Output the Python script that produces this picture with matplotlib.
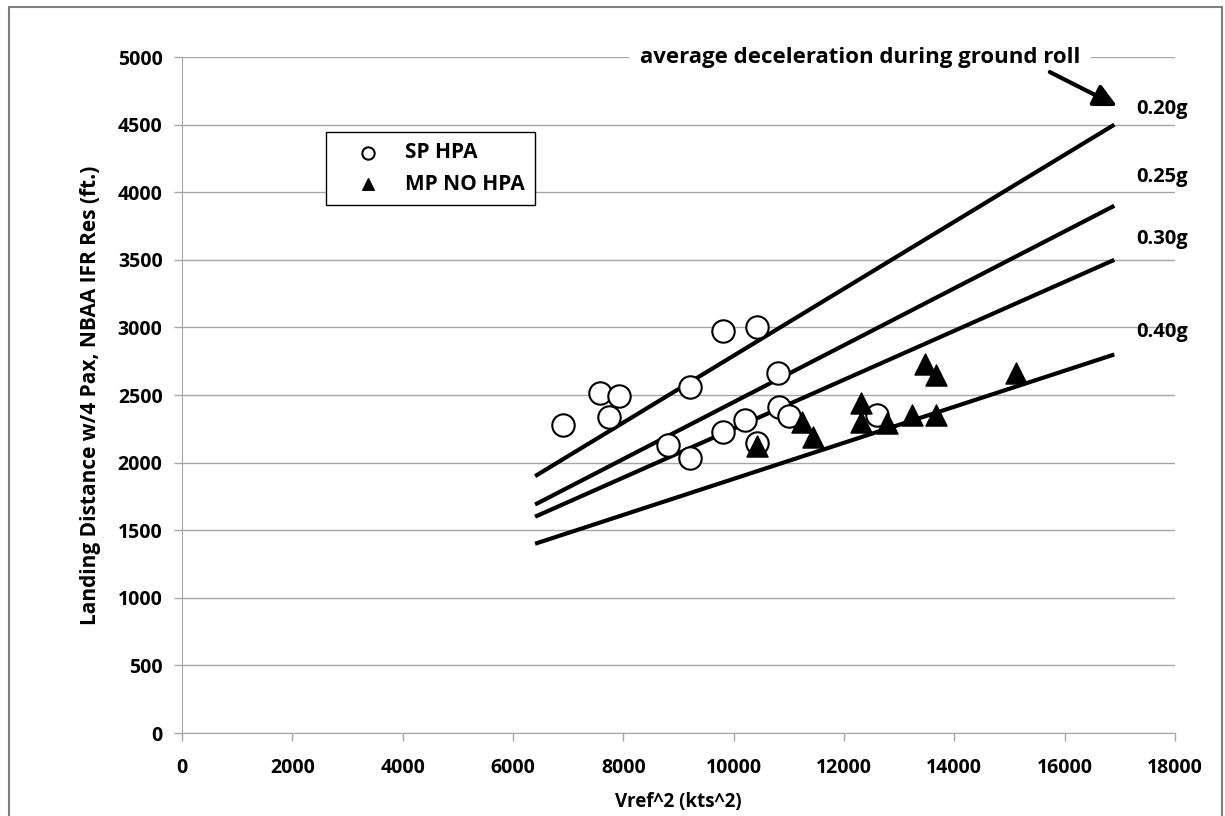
import matplotlib.pyplot as plt
import numpy as np

plt.rcParams['font.family'] = ['Open Sans', 'DejaVu Sans']

# SP HPA aircraft (open circles)
sp_x = [6900, 7580, 7920, 7740, 8810, 9210, 9210, 9800, 9800, 10420,
        10200, 10420, 10800, 10820, 11000, 12600]
sp_y = [2280, 2515, 2495, 2340, 2130, 2035, 2560, 2225, 2970, 3000,
        2315, 2145, 2665, 2410, 2345, 2350]

# MP NO HPA aircraft (filled triangles)
mp_x = [10420, 11240, 11440, 12310, 12310, 12780, 13230, 13470, 13670,
        13670, 15120]
mp_y = [2120, 2300, 2190, 2440, 2300, 2290, 2350, 2730, 2650, 2350, 2660]

# constant deceleration reference lines
decel_labels = ['0.20g', '0.25g', '0.30g', '0.40g']
line_x = [6400, 16900]
line_y = [[1900, 4500], [1690, 3900], [1600, 3500], [1400, 2800]]
label_y = [4615, 4110, 3655, 2965]

fig = plt.figure(figsize=(12.25, 8.16), dpi=100)
ax = fig.add_axes([0.1486, 0.1017, 0.8106, 0.8284])

# outer frame around the whole picture
fig.patches.append(plt.Rectangle((0.0075, -0.01), 0.990, 1.002,
                                 transform=fig.transFigure, fill=False,
                                 edgecolor='#7f7f7f', lw=1.5))

ax.set_xlim(0, 18000)
ax.set_ylim(0, 5000)
ax.set_xticks(np.arange(0, 18001, 2000))
ax.set_yticks(np.arange(0, 5001, 500))
ax.yaxis.grid(True, color='#a6a6a6', lw=1)
ax.set_axisbelow(True)

for s in ['top', 'right']:
    ax.spines[s].set_visible(False)
for s in ['left', 'bottom']:
    ax.spines[s].set_color('#a6a6a6')
ax.tick_params(axis='both', colors='#a6a6a6', labelcolor='black',
               length=6, width=1, labelsize=14, pad=8)
ax.tick_params(axis='x', pad=12)
for lab in ax.get_xticklabels() + ax.get_yticklabels():
    lab.set_fontweight('bold')

for ys, lab, ly in zip(line_y, decel_labels, label_y):
    ax.plot(line_x, ys, color='black', lw=3, solid_capstyle='butt', zorder=2)
    ax.text(17290, ly, lab, fontsize=14.5, fontweight='bold', va='center',
            ha='left')

ax.scatter(sp_x, sp_y, s=260, marker='o', facecolor='white',
           edgecolor='black', lw=1.5, zorder=3, label='SP HPA')
ax.scatter(mp_x, mp_y, s=230, marker='^', color='black', zorder=4,
           label='MP NO HPA')

ax.text(12290, 5000, 'average deceleration during ground roll', fontsize=16,
        fontweight='bold', ha='center', va='center', zorder=1.5,
        bbox=dict(facecolor='white', edgecolor='none', pad=8))
ax.annotate('', xy=(16950, 4637), xytext=(15730, 4889), zorder=6,
            arrowprops=dict(arrowstyle='-|>', color='black', lw=3,
                            mutation_scale=34, shrinkA=0, shrinkB=0))

leg = ax.legend(loc='upper left', bbox_to_anchor=(0.145, 0.889),
                frameon=True, fancybox=False, edgecolor='black',
                framealpha=1, markerscale=0.55, handlelength=3.0,
                handletextpad=0.3, borderpad=0.5, labelspacing=0.5,
                borderaxespad=0, prop={'weight': 'bold', 'size': 15})
leg.get_frame().set_linewidth(1)

ax.set_xlabel('Vref^2 (kts^2)', fontsize=13.5, fontweight='bold', labelpad=10)
ax.set_ylabel('Landing Distance w/4 Pax, NBAA IFR Res (ft.)', fontsize=15,
              fontweight='bold', labelpad=12)

fig.savefig('out.png', dpi=100)
